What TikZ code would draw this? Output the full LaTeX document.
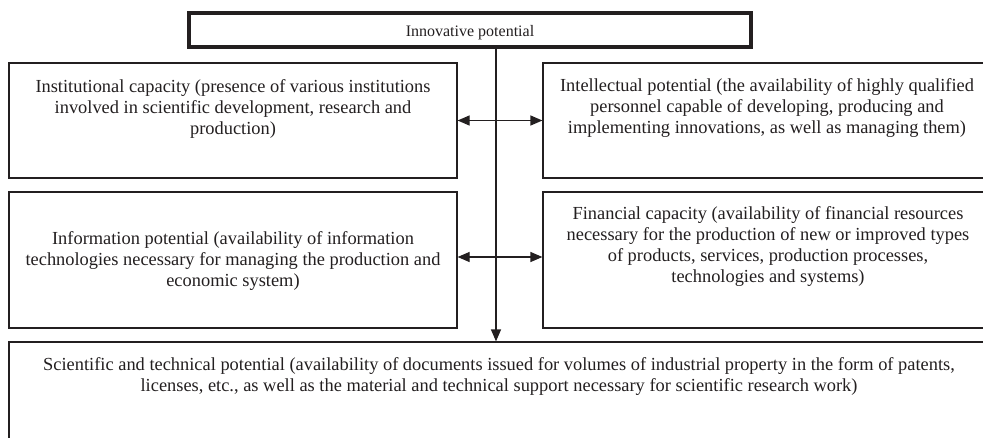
\documentclass[tikz,border=0pt]{standalone}
\usepackage{fontspec}
\setmainfont{Liberation Serif}
\usetikzlibrary{arrows.meta}
\definecolor{ink}{HTML}{231F20}
\begin{document}
\begin{tikzpicture}[x=1pt,y=-1pt,
  box/.style={draw=ink,line width=1.2pt,rectangle,inner sep=0pt,fill=white},
  topbox/.style={draw=ink,line width=4pt,rectangle,inner sep=0pt},
  txt/.style={inner sep=0pt,anchor=north,align=center,text=ink,font=\fontsize{18.4}{20.8}\selectfont},
  conn/.style={draw=ink,line width=1.2pt}
]
\useasboundingbox (0,0) rectangle (983,437);
\clip (0,0) rectangle (983,437);
% boxes
\node[topbox,minimum width=562pt,minimum height=34pt] (top) at (470,30) {};
\node[box,minimum width=448pt,minimum height=115pt] (inst) at (233,120.5) {};
\node[box,minimum width=448pt,minimum height=136pt] (info) at (233,260) {};
\node[box,minimum width=448pt,minimum height=115pt] (intel) at (767,120.5) {};
\node[box,minimum width=448pt,minimum height=136pt] (fin) at (767,260) {};
\node[box,minimum width=982pt,minimum height=108pt] (sci) at (500,396) {};
% texts
\node[inner sep=0pt,anchor=base,text=ink,font=\fontsize{16}{20.8}\selectfont] (toptxt) at (470,36) {Innovative potential};
\node[txt] (insttxt) at (233,79.5) {Institutional capacity (presence of various institutions\\involved in scientific development, research and\\production)};
\node[txt] (infotxt) at (233,231.5) {Information potential (availability of information\\technologies necessary for managing the production and\\economic system)};
\node[txt] (inteltxt) at (767,78.5) {Intellectual potential (the availability of highly qualified\\personnel capable of developing, producing and\\implementing innovations, as well as managing them)};
\node[txt] (fintxt) at (768,206.5) {Financial capacity (availability of financial resources\\necessary for the production of new or improved types\\of products, services, production processes,\\technologies and systems)};
\node[txt] (scitxt) at (499,357.5) {Scientific and technical potential (availability of documents issued for volumes of industrial property in the form of patents,\\licenses, etc., as well as the material and technical support necessary for scientific research work)};
% connectors
\coordinate (vx) at (496,0);
\draw[conn,-{Triangle[length=12pt,width=10pt]}] (top.south -| vx) -- (sci.north -| vx);
\draw[conn,{Triangle[length=12pt,width=10pt]}-{Triangle[length=12pt,width=10pt]}] (inst.east) -- (intel.west);
\draw[conn,{Triangle[length=12pt,width=10pt]}-{Triangle[length=12pt,width=10pt]}] ([yshift=3pt]info.east) -- ([yshift=3pt]fin.west);
\end{tikzpicture}
\end{document}
